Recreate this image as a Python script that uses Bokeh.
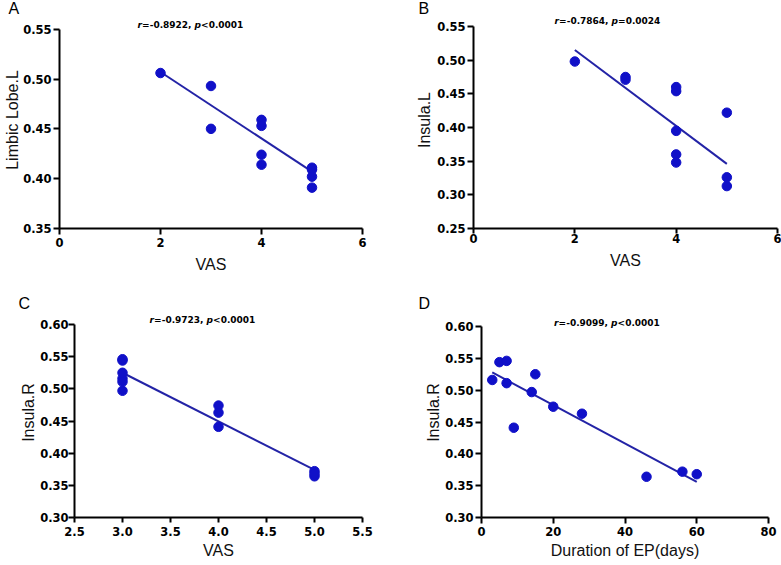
from bokeh.plotting import figure
from bokeh.layouts import row, column
from bokeh.models import Range1d, FixedTicker, Label, NumeralTickFormatter, Title
from bokeh.embed import file_html
from bokeh.resources import INLINE

# ---------------- data ----------------
# Panel A: VAS vs Limbic Lobe.L
vas_A = [2, 3, 3, 4, 4, 4, 4, 5, 5, 5, 5]
limbic_L = [0.506, 0.493, 0.450, 0.459, 0.453, 0.424, 0.414, 0.411, 0.409, 0.402, 0.391]
fit_A_x = [2, 5]
fit_A_y = [0.507, 0.407]
r_A, p_A = "-0.8922", "<0.0001"

# Panel B: VAS vs Insula.L
vas_B = [2, 3, 3, 4, 4, 4, 4, 4, 5, 5, 5]
insula_L = [0.498, 0.475, 0.471, 0.460, 0.454, 0.395, 0.360, 0.348, 0.422, 0.326, 0.313]
fit_B_x = [2, 5]
fit_B_y = [0.515, 0.346]
r_B, p_B = "-0.7864", "=0.0024"

# Panels C and D: Insula.R vs VAS and vs duration of EP
vas_C = [3, 3, 3, 3, 4, 3, 3, 4, 4, 5, 5, 5]
duration_D = [3, 5, 7, 7, 9, 14, 15, 20, 28, 46, 56, 60]
insula_R = [0.516, 0.544, 0.546, 0.511, 0.441, 0.497, 0.525, 0.474, 0.463, 0.364, 0.372, 0.368]
fit_C_x = [3, 5]
fit_C_y = [0.525, 0.374]
fit_D_x = [3, 60]
fit_D_y = [0.528, 0.356]
r_C, p_C = "-0.9723", "<0.0001"
r_D, p_D = "-0.9099", "<0.0001"

ticks_A_x = [0, 2, 4, 6]
ticks_A_y = [0.35, 0.40, 0.45, 0.50, 0.55]
ticks_B_x = [0, 2, 4, 6]
ticks_B_y = [0.25, 0.30, 0.35, 0.40, 0.45, 0.50, 0.55]
ticks_C_x = [2.5, 3.0, 3.5, 4.0, 4.5, 5.0, 5.5]
ticks_C_y = [0.30, 0.35, 0.40, 0.45, 0.50, 0.55, 0.60]
ticks_D_x = [0, 20, 40, 60, 80]
ticks_D_y = [0.30, 0.35, 0.40, 0.45, 0.50, 0.55, 0.60]

POINT = "#1010C8"
LINE = "#2323A6"
TICK_FONT = "DejaVu Sans"
LABEL_FONT = "Liberation Sans"


def panel(letter, x, y, fx, fy, xr, yt_top, yt_bot, xt, yt, xfmt, yfmt, xlabel, ylabel,
          r_txt, p_txt, g):
    # g["t"]: frame top (px from figure top); g["axtop"]: pixel of the top y tick
    fh = g["h"] - g["t"] - g["b"]
    ppu = (fh - (g["axtop"] - g["t"])) / (yt_top - yt_bot)   # pixels per data unit
    y_end = yt_top + (g["axtop"] - g["t"]) / ppu
    p = figure(width=g["w"], height=g["h"], x_range=Range1d(*xr),
               y_range=Range1d(yt_bot, y_end),
               output_backend="svg", toolbar_location=None, title=None,
               min_border_left=g["l"], min_border_right=g["r"],
               min_border_top=g["t"], min_border_bottom=g["b"])
    p.xgrid.visible = False
    p.ygrid.visible = False
    p.outline_line_color = None

    fw = g["w"] - g["l"] - g["r"]

    for ax, ticks, fmt, tout, tso, lso, lab in (
        (p.xaxis[0], xt, xfmt, g["xt"], g["xs"], g["xl"], xlabel),
        (p.yaxis[0], yt, yfmt, g["yt"], g["ys"], g["yl"], ylabel),
    ):
        ax.ticker = FixedTicker(ticks=ticks)
        ax.formatter = NumeralTickFormatter(format=fmt)
        ax.axis_line_width = 2
        ax.axis_line_color = "black"
        ax.major_tick_line_width = 2
        ax.major_tick_line_color = "black"
        ax.major_tick_out = tout
        ax.major_tick_in = 0
        ax.minor_tick_out = 0
        ax.minor_tick_in = 0
        ax.major_label_standoff = tso
        ax.major_label_text_font = TICK_FONT
        ax.major_label_text_font_size = "11.5px"
        ax.major_label_text_font_style = "bold"
        ax.major_label_text_color = "black"
        ax.axis_label = lab
        ax.axis_label_standoff = lso
        ax.axis_label_text_font = LABEL_FONT
        ax.axis_label_text_font_size = "16px"
        ax.axis_label_text_font_style = "normal"
        ax.axis_label_text_color = "#111111"
    p.yaxis[0].bounds = (yt_bot, yt_top)

    p.line(fx, fy, line_width=2, line_color=LINE)
    p.scatter(x, y, size=9.5, fill_color=POINT, line_color=POINT)

    # statistics text  (r and p in italics), inside the (extended) frame
    sx = xr[0] + g["sx"] * (xr[1] - xr[0]) / fw
    sy = yt_top + (g["axtop"] - g["sy"]) / ppu
    pieces = [("r", "bold italic", -52.9), ("=" + r_txt + ", ", "bold", -48.4),
              ("p", "bold italic", 4.1), (p_txt, "bold", 10.6)]
    for txt, style, off in pieces:
        p.add_layout(Label(x=sx, y=sy, x_offset=off, text=txt, text_font=TICK_FONT,
                           text_font_size="9px", text_font_style=style,
                           text_color="black", text_align="left",
                           text_baseline="middle"))

    # panel letter
    p.add_layout(Title(text=letter, align="left", offset=g["lx"], standoff=g["ls"],
                       text_font=LABEL_FONT, text_font_size="16px",
                       text_font_style="normal", text_color="black"), "above")
    return p


# geometry (pixels within each figure)
gA = dict(w=390, h=285, l=59, r=28, t=11, axtop=29, b=53, xt=6, xs=3, xl=6, yt=6, ys=2, yl=-1,
          sx=131, sy=25, lx=-51, ls=-10)
gB = dict(w=391, h=285, l=83, r=4, t=11, axtop=26, b=57, xt=5, xs=0, xl=6, yt=6, ys=2, yl=1,
          sx=134, sy=20.5, lx=-55, ls=-10)
gC = dict(w=390, h=280, l=74, r=28, t=22, axtop=39, b=48, xt=5, xs=4, xl=3, yt=6, ys=0, yl=0,
          sx=128, sy=34, lx=-56, ls=-8)
gD = dict(w=391, h=280, l=91, r=13, t=22, axtop=41, b=48, xt=6, xs=3, xl=3, yt=6, ys=2, yl=0,
          sx=125.5, sy=37.7, lx=-63, ls=-8)

pA = panel("A", vas_A, limbic_L, fit_A_x, fit_A_y, (0, 6), ticks_A_y[-1], ticks_A_y[0],
           ticks_A_x, ticks_A_y, "0", "0.00", "VAS", "Limbic Lobe.L", r_A, p_A, gA)
pB = panel("B", vas_B, insula_L, fit_B_x, fit_B_y, (0, 6), ticks_B_y[-1], ticks_B_y[0],
           ticks_B_x, ticks_B_y, "0", "0.00", "VAS", "Insula.L", r_B, p_B, gB)
pC = panel("C", vas_C, insula_R, fit_C_x, fit_C_y, (2.5, 5.5), ticks_C_y[-1], ticks_C_y[0],
           ticks_C_x, ticks_C_y, "0.0", "0.00", "VAS", "Insula.R", r_C, p_C, gC)
pD = panel("D", duration_D, insula_R, fit_D_x, fit_D_y, (0, 80), ticks_D_y[-1], ticks_D_y[0],
           ticks_D_x, ticks_D_y, "0", "0.00", "Duration of EP(days)", "Insula.R", r_D, p_D, gD)

layout = column(row(pA, pB), row(pC, pD))
open("out.html", "w").write(file_html(layout, INLINE))
